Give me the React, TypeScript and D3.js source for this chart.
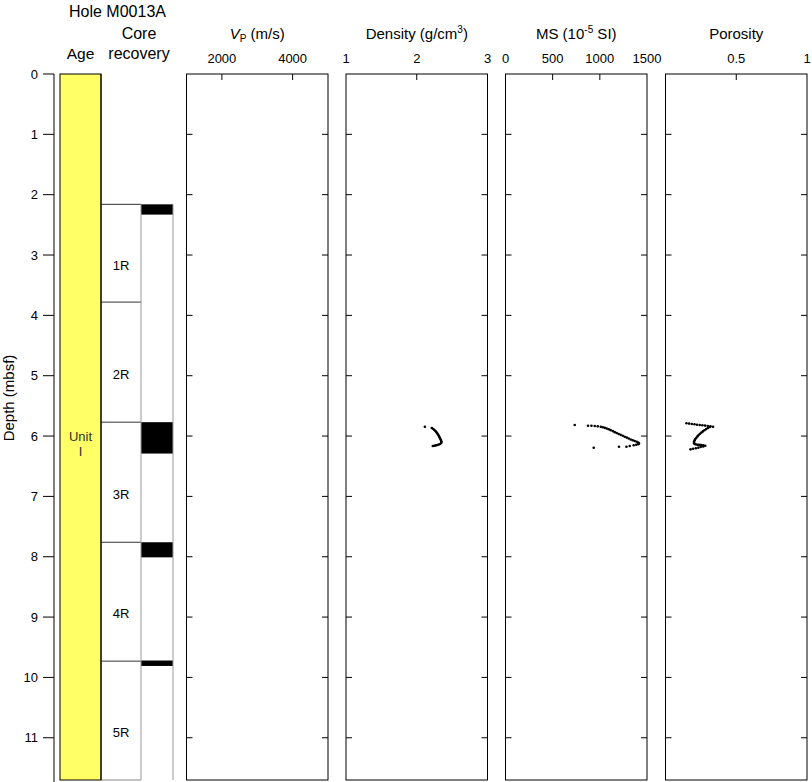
import React from "react";
import * as d3 from "d3";

// ---------- data ----------
const coreNames = ["1R", "2R", "3R", "4R", "5R"];
const coreTop = [2.16, 3.78, 5.77, 7.76, 9.73];
const coreBottom = [3.78, 5.77, 7.76, 9.73, 11.7];
const recTop = [2.16, 5.77, 7.76, 9.72];
const recBottom = [2.33, 6.29, 8.01, 9.81];

const depthTicks = [0, 1, 2, 3, 4, 5, 6, 7, 8, 9, 10, 11];

const densDepth = [5.845, 5.867, 5.883, 5.9, 5.917, 5.933, 5.95, 5.967, 5.983, 6.0, 6.016, 6.033, 6.049, 6.066, 6.083, 6.099, 6.116, 6.132, 6.142, 6.149, 6.155, 6.16, 6.165];
const densValue = [2.115, 2.213, 2.234, 2.249, 2.264, 2.275, 2.286, 2.296, 2.304, 2.313, 2.32, 2.327, 2.334, 2.341, 2.346, 2.349, 2.345, 2.33, 2.311, 2.29, 2.269, 2.248, 2.227];

const msDepth = [5.817, 5.829, 5.829, 5.834, 5.839, 5.845, 5.854, 5.864, 5.875, 5.887, 5.902, 5.918, 5.935, 5.95, 5.965, 5.98, 5.996, 6.011, 6.026, 6.041, 6.056, 6.069, 6.082, 6.095, 6.109, 6.122, 6.135, 6.145, 6.153, 6.165, 6.177, 6.177, 6.193];
const msValue = [734, 875, 911, 946, 978, 1010, 1031, 1052, 1073, 1094, 1115, 1137, 1158, 1179, 1200, 1221, 1243, 1264, 1285, 1306, 1327, 1349, 1370, 1391, 1407, 1415, 1407, 1386, 1359, 1317, 1282, 1203, 935];

const porDepth = [5.789, 5.794, 5.8, 5.805, 5.812, 5.817, 5.822, 5.827, 5.834, 5.839, 5.845, 5.85, 5.867, 5.885, 5.903, 5.923, 5.943, 5.963, 5.984, 6.006, 6.027, 6.049, 6.07, 6.092, 6.114, 6.13, 6.139, 6.144, 6.147, 6.15, 6.155, 6.16, 6.173, 6.182, 6.192, 6.202, 6.21, 6.22];
const porValue = [0.148, 0.167, 0.186, 0.205, 0.223, 0.242, 0.261, 0.28, 0.299, 0.318, 0.336, 0.313, 0.3, 0.287, 0.275, 0.264, 0.254, 0.244, 0.234, 0.226, 0.218, 0.211, 0.206, 0.202, 0.201, 0.206, 0.217, 0.229, 0.242, 0.254, 0.268, 0.281, 0.267, 0.249, 0.232, 0.214, 0.195, 0.177];

const vpTicks = [2000, 4000];
const densTicks = [1, 2, 3];
const msTicks = [0, 500, 1000, 1500];
const porTicks = [0.5, 1];

// ---------- layout ----------
const W = 812;
const H = 782;
const TOP = 74;
const BOT = 780;
const FONT = "'Liberation Sans', Arial, Helvetica, sans-serif";

const y = d3.scaleLinear().domain([0, 11.7]).range([TOP, BOT]);

type Panel = {
  key: string;
  left: number;
  domain: [number, number];
  ticks: number[];
  depths: number[];
  values: number[];
  title: React.ReactNode;
};

const PW = 141.5;

const panels: Panel[] = [
  {
    key: "vp",
    left: 186.5,
    domain: [1000, 5000],
    ticks: vpTicks,
    depths: [],
    values: [],
    title: (
      <>
        <tspan fontStyle="italic">V</tspan>
        <tspan fontSize={10} dy={3}>P</tspan>
        <tspan dy={-3}> (m/s)</tspan>
      </>
    ),
  },
  {
    key: "dens",
    left: 346,
    domain: [1, 3],
    ticks: densTicks,
    depths: densDepth,
    values: densValue,
    title: (
      <>
        <tspan>Density (g/cm</tspan>
        <tspan fontSize={10} dy={-6}>3</tspan>
        <tspan dy={6}>)</tspan>
      </>
    ),
  },
  {
    key: "ms",
    left: 505.5,
    domain: [0, 1500],
    ticks: msTicks,
    depths: msDepth,
    values: msValue,
    title: (
      <>
        <tspan>MS (10</tspan>
        <tspan fontSize={10} dy={-6}>-5</tspan>
        <tspan dy={6}> SI)</tspan>
      </>
    ),
  },
  {
    key: "por",
    left: 665.5,
    domain: [0, 1],
    ticks: porTicks,
    depths: porDepth,
    values: porValue,
    title: "Porosity",
  },
];

function PanelView({ p }: { p: Panel }) {
  const x = d3.scaleLinear().domain(p.domain).range([p.left, p.left + PW]);
  const inner = depthTicks.filter((d) => d > 0);
  return (
    <g>
      <text x={p.left + PW / 2} y={39} textAnchor="middle" fontSize={15}>
        {p.title}
      </text>
      {p.ticks.map((t) => (
        <text key={"l" + t} x={x(t)} y={63} textAnchor="middle" fontSize={13}>
          {t}
        </text>
      ))}
      <rect x={p.left} y={TOP} width={PW} height={BOT - TOP} fill="white" stroke="black" strokeWidth={1} />
      {p.ticks
        .filter((t) => t > p.domain[0] && t < p.domain[1])
        .map((t) => (
          <line key={"t" + t} x1={x(t)} x2={x(t)} y1={TOP} y2={TOP + 6} stroke="black" />
        ))}
      {inner.map((d) => (
        <g key={"d" + d}>
          <line x1={p.left} x2={p.left + 6} y1={y(d)} y2={y(d)} stroke="black" />
          <line x1={p.left + PW - 6} x2={p.left + PW} y1={y(d)} y2={y(d)} stroke="black" />
        </g>
      ))}
      {p.values.map((v, i) => (
        <circle key={"p" + i} cx={x(v)} cy={y(p.depths[i])} r={1.3} fill="black" />
      ))}
    </g>
  );
}

export default function App() {
  const ageX0 = 60;
  const ageX1 = 101;
  const recX0 = 141;
  const recX1 = 173;
  return (
    <svg
      width={W}
      height={H}
      style={{ position: "absolute", left: 0, top: 0, fontFamily: FONT }}
      fontFamily={FONT}
    >
      <rect x={0} y={0} width={W} height={H} fill="white" />
      {/* headers */}
      <text x={117.5} y={17} textAnchor="middle" fontSize={16}>Hole M0013A</text>
      <text x={80.5} y={59} textAnchor="middle" fontSize={15.5}>Age</text>
      <text x={139} y={39} textAnchor="middle" fontSize={16}>Core</text>
      <text x={139} y={59} textAnchor="middle" fontSize={16}>recovery</text>

      {/* depth axis */}
      <line x1={54} x2={54} y1={TOP} y2={H} stroke="black" />
      {depthTicks.map((d) => (
        <g key={d}>
          <line x1={43} x2={54} y1={y(d)} y2={y(d)} stroke="black" />
          <text x={38} y={y(d)} dy="0.35em" textAnchor="end" fontSize={13}>{d}</text>
        </g>
      ))}
      <text
        transform={`translate(14, ${398}) rotate(-90)`}
        textAnchor="middle"
        fontSize={15}
      >
        Depth (mbsf)
      </text>

      {/* age column */}
      <rect x={ageX0} y={TOP} width={ageX1 - ageX0} height={BOT - TOP} fill="#FFFF66" stroke="black" />
      <text x={(ageX0 + ageX1) / 2} y={y(6.08)} textAnchor="middle" fontSize={13} fill="#333">Unit</text>
      <text x={(ageX0 + ageX1) / 2} y={y(6.33)} textAnchor="middle" fontSize={13} fill="#333">I</text>

      {/* cores */}
      {coreNames.map((c, i) => (
        <g key={c}>
          <line x1={ageX1} x2={recX0} y1={y(coreTop[i])} y2={y(coreTop[i])} stroke="#333" />
          <text
            x={(ageX1 + recX0) / 2}
            y={(y(coreTop[i]) + y(coreBottom[i])) / 2 + 12}
            dy="0.35em"
            textAnchor="middle"
            fontSize={13}
          >
            {c}
          </text>
        </g>
      ))}
      <line x1={ageX1} x2={recX0} y1={y(coreBottom[4])} y2={y(coreBottom[4])} stroke="#888" />
      {recTop.map((t, i) => (
        <rect key={i} x={recX0} y={y(t)} width={recX1 - recX0} height={y(recBottom[i]) - y(t)} fill="black" />
      ))}
      <line x1={recX0} x2={recX0} y1={y(coreTop[0])} y2={BOT} stroke="#999" />
      <line x1={recX1} x2={recX1} y1={y(coreTop[0])} y2={BOT} stroke="#999" />
      <line x1={ageX1} x2={ageX1} y1={TOP} y2={BOT} stroke="black" />

      {panels.map((p) => (
        <PanelView key={p.key} p={p} />
      ))}
    </svg>
  );
}
